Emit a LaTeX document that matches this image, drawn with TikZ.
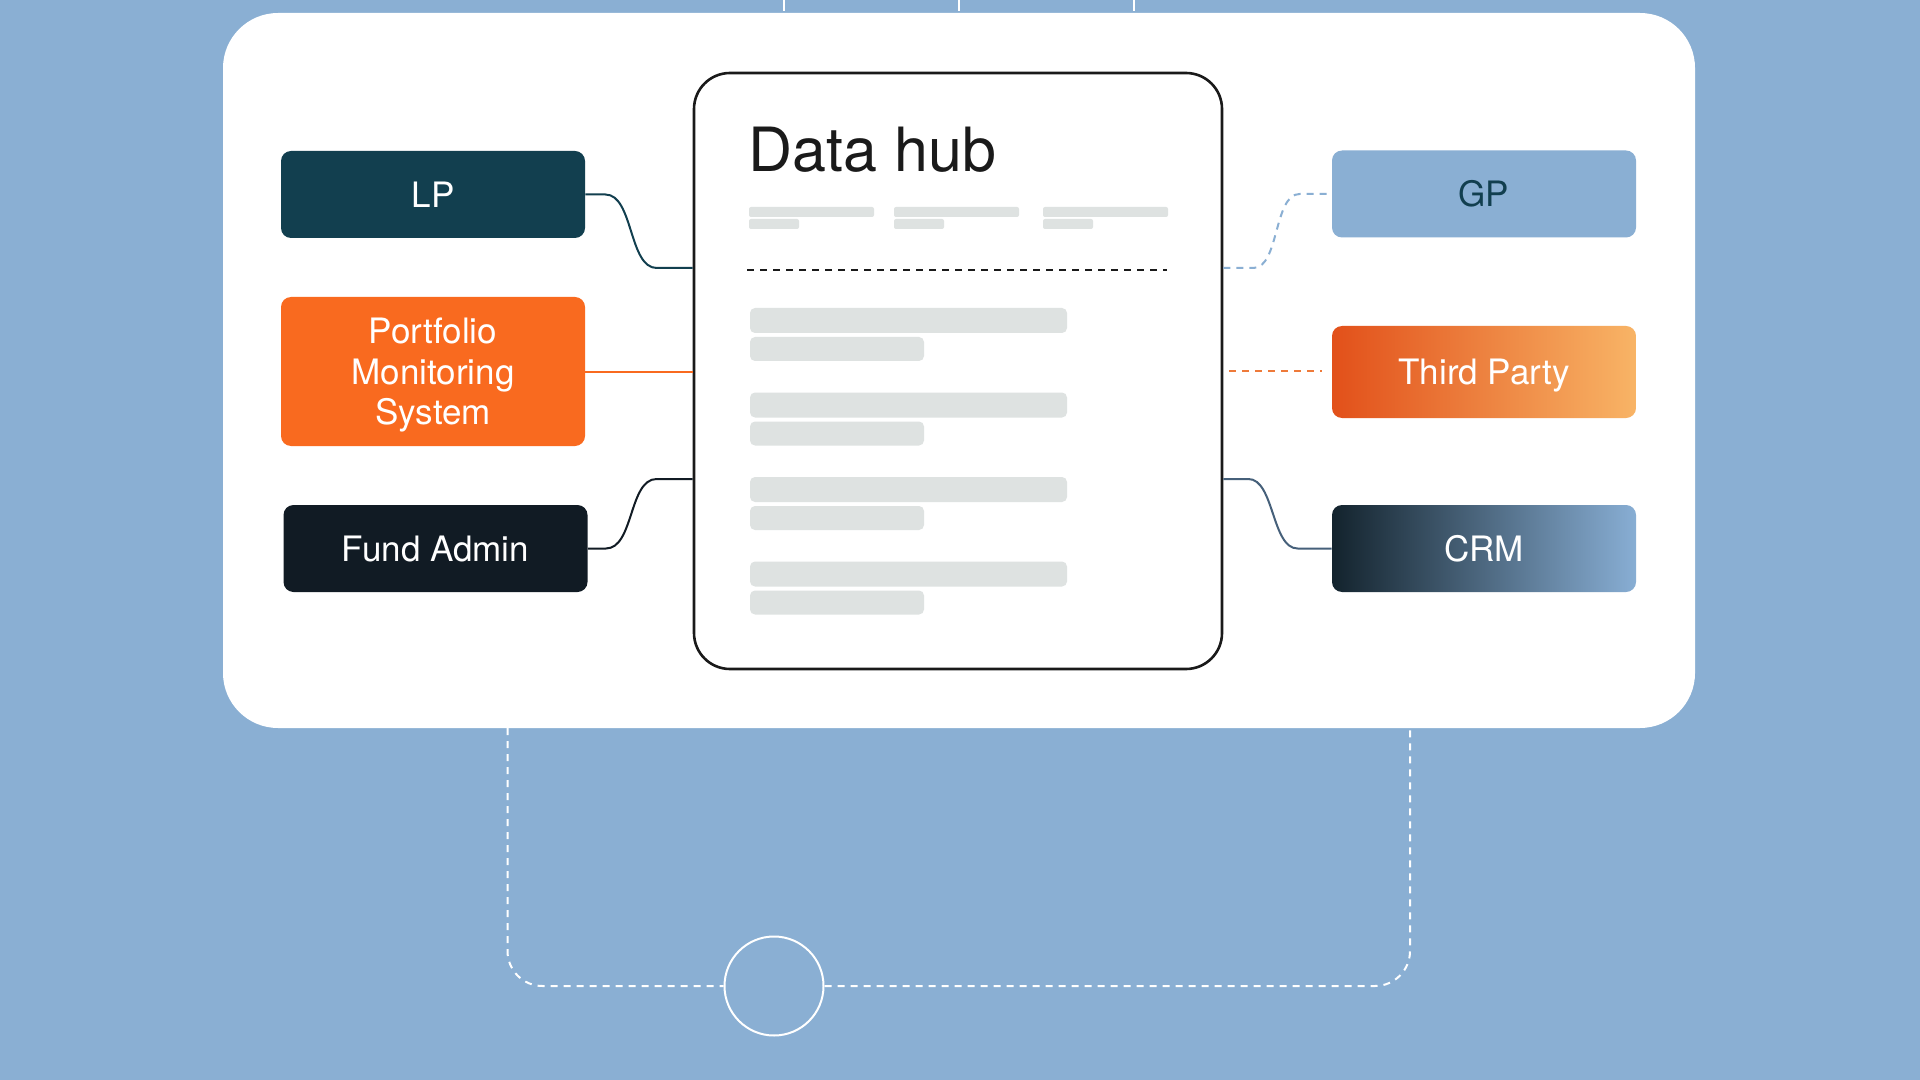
\documentclass[tikz,border=0pt]{standalone}
\usepackage{fontspec}
\setmainfont{TeX Gyre Heros}
\definecolor{fond}{HTML}{8AAFD3}
\definecolor{encre}{HTML}{1A1A1A}
\definecolor{lp}{HTML}{123F4F}
\definecolor{pms}{HTML}{F96A1F}
\definecolor{fa}{HTML}{111B24}
\definecolor{tpg}{HTML}{E2501A}
\definecolor{tpd}{HTML}{F8B466}
\definecolor{crmg}{HTML}{13232D}
\definecolor{crmd}{HTML}{88AED4}
\definecolor{crml}{HTML}{46607A}
\definecolor{gpl}{HTML}{8AAFD3}
\definecolor{tpl}{HTML}{EE7A3A}
\definecolor{barre}{HTML}{DEE2E1}
\begin{document}
\begin{tikzpicture}[x=0.5pt,y=-0.5pt]
	% Styles
	\tikzstyle{boite}=[rounded corners=5pt,minimum width=152pt,minimum height=43.5pt,inner sep=0pt,text=white,align=center,text depth=0pt,font=\fontsize{17.5}{20.3}\selectfont]
	\tikzstyle{courte}=[boite,text height=12.6pt]
	\tikzstyle{lien}=[line width=1pt]
	\tikzstyle{pointille}=[line width=1pt,dash pattern=on 3.5pt off 3pt]
	\tikzstyle{blanc}=[white,line width=1pt,dash pattern=on 3.5pt off 3pt,rounded corners=17.5pt]
	\tikzstyle{rond}=[circle,draw=white,line width=1pt,minimum size=49.5pt,inner sep=0pt]
	\tikzstyle{barre}=[fill=barre,rounded corners=2.5pt]
	% Dimensions
	\def\ColG{433}
	\def\ColD{1484}
	\def\LigneA{194.5}
	\def\LigneB{371.5}
	\def\LigneC{548.5}
	\def\Pas{84.5}
	% Fond
	\useasboundingbox (0,0) rectangle (1920,1080);
	\fill[fond] (0,0) rectangle (1920,1080);
	\foreach \x in {784,959,1134}
		\draw[white,line width=1pt] (\x,0) -- (\x,11);
	\fill[white,rounded corners=27.5pt] (223,13) rectangle (1695,728);
	% Hub
	\node[draw=encre,fill=white,line width=1.3pt,rounded corners=18pt,minimum width=264pt,minimum height=298pt] (hub) at (958,371) {};
	\node[anchor=base west,inner sep=0pt,text=encre,font=\fontsize{30.5}{36}\selectfont] (titre) at (748,172) {Data hub};
	\foreach \x in {749,894,1043}{
		\fill[barre,rounded corners=1pt] (\x,207) rectangle ++(125,10);
		\fill[barre,rounded corners=1pt] (\x,219) rectangle ++(50,10);
	}
	\draw[encre,line width=1pt,dash pattern=on 3.5pt off 3pt] (747,270) -- (1167,270);
	\foreach \i in {0,...,3}{
		\fill[barre] (750,{308+\Pas*\i}) rectangle (1067,{333+\Pas*\i});
		\fill[barre] (750,{337+\Pas*\i}) rectangle (924,{361+\Pas*\i});
	}
	\coordinate (hubO1) at ([yshift=51.5pt]hub.west);
	\coordinate (hubO3) at ([yshift=-54pt]hub.west);
	\coordinate (hubE1) at ([yshift=51.5pt]hub.east);
	\coordinate (hubE3) at ([yshift=-54pt]hub.east);
	% Boites
	\node[courte,fill=lp] (LP) at (\ColG,\LigneA) {LP};
	\node[boite,fill=pms,minimum height=74.5pt] (PMS) at (\ColG,\LigneB) {Portfolio\\Monitoring\\System};
	\node[courte,fill=fa] (FA) at (435.5,\LigneC) {Fund Admin};
	\node[courte,fill=fond,text=lp] (GP) at (\ColD,194) {GP};
	\node[courte,left color=tpg,right color=tpd,minimum height=46pt] (TP) at (\ColD,372) {Third Party};
	\node[courte,left color=crmg,right color=crmd] (CRM) at (\ColD,\LigneC) {CRM};
	% Liens
	\draw[lien,draw=lp] (LP.east) -- ++(20,0) .. controls +(28,0) and +(-28,0) .. ([xshift=-18pt]hubO1) -- (hubO1);
	\draw[lien,draw=pms] (PMS.east) -- (PMS.east -| hub.west);
	\draw[lien,draw=fa] (FA.east) -- ++(18,0) .. controls +(28,0) and +(-28,0) .. ([xshift=-18pt]hubO3) -- (hubO3);
	\draw[pointille,draw=gpl] (hubE1) -- ++(30,0) .. controls +(26,0) and +(-26,0) .. ([xshift=-16pt]GP.west) -- (GP.west);
	\draw[pointille,draw=tpl] ([xshift=3pt]hub.east) -- ([xshift=-5pt]hub.east -| TP.west);
	\draw[lien,draw=crml] (hubE3) -- ++(25,0) .. controls +(26,0) and +(-26,0) .. ([xshift=-17pt]CRM.west) -- (CRM.west);
	% Bas
	\node[rond] (rond) at (774,986) {};
	\coordinate (bordG) at (507.5,728);
	\coordinate (bordD) at (1410,728);
	\draw[blanc] (bordG) -- (bordG |- rond) -- (rond.west);
	\draw[blanc] (rond.east) -- (bordD |- rond) -- (bordD);
\end{tikzpicture}
\end{document}
